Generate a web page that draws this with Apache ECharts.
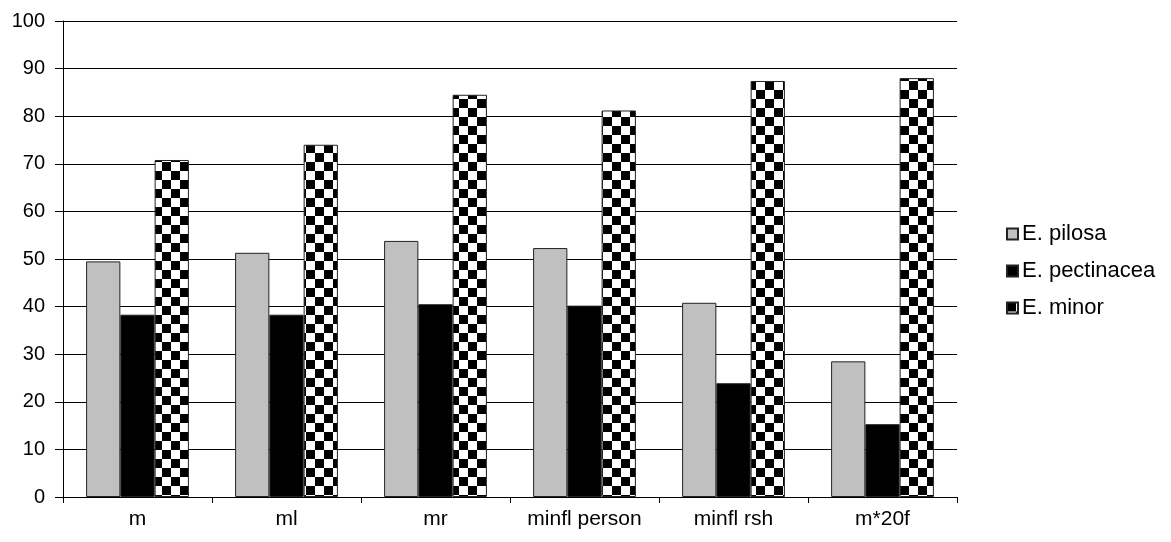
<!DOCTYPE html>
<html><head><meta charset="utf-8">
<script src="https://cdn.jsdelivr.net/npm/echarts@6/dist/echarts.min.js"></script>
<style>html,body{margin:0;padding:0;background:#fff}#c{width:1171px;height:542px}</style>
</head><body><div id="c"></div>
<script>
const categories = ['m', 'ml', 'mr', 'minfl person', 'minfl rsh', 'm*20f'];
const seriesNames = ['E. pilosa', 'E. pectinacea', 'E. minor'];
const pilosa = [49.5, 51.3, 53.8, 52.3, 40.8, 28.5];
const pectinacea = [38.3, 38.3, 40.5, 40.2, 23.9, 15.3];
const minor = [70.8, 74.0, 84.5, 81.2, 87.4, 88.0];
const yTicks = [0, 10, 20, 30, 40, 50, 60, 70, 80, 90, 100];

const pc = document.createElement('canvas');
const s = 9;
pc.width = 2 * s; pc.height = 2 * s;
const ctx = pc.getContext('2d');
ctx.fillStyle = '#fff'; ctx.fillRect(0, 0, 2 * s, 2 * s);
ctx.fillStyle = '#000';
ctx.fillRect(0, 0, s, s); ctx.fillRect(s, s, s, s);

const chart = echarts.init(document.getElementById('c'), null, {renderer: 'canvas'});
const font = 'Liberation Sans, Arial, sans-serif';
function bar(name, data, color) {
  return {
    name, type: 'bar', data, barGap: '0%', barCategoryGap: '31%',
    itemStyle: {color, borderColor: '#222', borderWidth: 1},
    emphasis: {disabled: true}
  };
}
chart.setOption({
  animation: false,
  backgroundColor: '#fff',
  grid: {left: 63, right: 214, top: 21, bottom: 45, containLabel: false},
  legend: {
    orient: 'vertical', left: 1001, top: 218, itemGap: 15,
    itemWidth: 11, itemHeight: 11, icon: 'rect',
    textStyle: {fontFamily: font, fontSize: 22, color: '#000', padding: [0, 0, 0, -1]},
    data: seriesNames
  },
  xAxis: {
    type: 'category', data: categories,
    axisLine: {lineStyle: {color: '#000', width: 1}},
    axisTick: {show: true, length: 6, lineStyle: {color: '#000'}},
    axisLabel: {fontFamily: font, fontSize: 21, color: '#000', margin: 12}
  },
  yAxis: {
    type: 'value', min: 0, max: 100, interval: 10,
    axisLine: {show: true, lineStyle: {color: '#000', width: 1}},
    axisTick: {show: true, length: 8, lineStyle: {color: '#000'}},
    axisLabel: {fontFamily: font, fontSize: 20, color: '#000', margin: 18,
      formatter: v => yTicks.includes(v) ? String(v) : ''},
    splitLine: {show: true, lineStyle: {color: '#000', width: 1}}
  },
  series: [
    bar(seriesNames[0], pilosa, '#c0c0c0'),
    bar(seriesNames[1], pectinacea, '#000'),
    bar(seriesNames[2], minor, {image: pc, repeat: 'repeat'})
  ]
});
</script></body></html>
